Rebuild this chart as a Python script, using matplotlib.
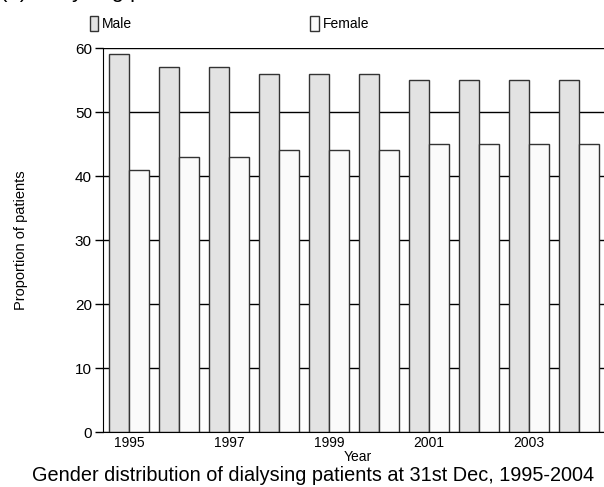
import matplotlib.pyplot as plt
import numpy as np

years = [1995, 1996, 1997, 1998, 1999, 2000, 2001, 2002, 2003, 2004]
male = [59, 57, 57, 56, 56, 56, 55, 55, 55, 55]
female = [41, 43, 43, 44, 44, 44, 45, 45, 45, 45]
tick_years = [1995, 1997, 1999, 2001, 2003]

plt.rcParams['font.family'] = ['Liberation Sans', 'DejaVu Sans']

fig = plt.figure(figsize=(6.04, 4.87), dpi=100)
ax = fig.add_axes([0.1705, 0.1129, 0.8295, 0.7885])

x = np.arange(len(years))
w = 0.4
b1 = ax.bar(x - w / 2, male, w, color='#e3e3e3', edgecolor='#333333', linewidth=1, label='Male')
b2 = ax.bar(x + w / 2, female, w, color='#fbfbfb', edgecolor='#333333', linewidth=1, label='Female')

ax.set_xlim(-0.52, 9.5)
ax.set_ylim(0, 60)
ax.set_yticks(range(0, 61, 10))
ax.set_xticks([years.index(y) for y in tick_years])
ax.set_xticklabels([str(y) for y in tick_years], fontsize=10)
ax.tick_params(axis='x', length=0, pad=3)
ax.tick_params(axis='y', length=6, width=1, labelsize=11, pad=2)
ax.yaxis.grid(True, color='black', linewidth=1)
ax.set_axisbelow(True)
for s in ['top', 'right']:
    ax.spines[s].set_visible(False)

ax.set_ylabel('Proportion of patients', fontsize=10.5, labelpad=34)
fig.text(358 / 604, (487 - 461) / 487, 'Year', fontsize=10, ha='center', va='baseline')
fig.text(313 / 604, (487 - 481) / 487,
         'Gender distribution of dialysing patients at 31st Dec, 1995-2004',
         fontsize=14.3, ha='center', va='baseline')
fig.text(0.0, 1.0 + 3 / 487, '(b) Dialysing patients', fontsize=16, ha='left', va='baseline')

leg = fig.legend(handles=[b1, b2], loc='upper left', bbox_to_anchor=(0.128, 0.993), ncol=2,
                 frameon=False, fontsize=10, handlelength=0.6, handleheight=1.3,
                 handletextpad=0.3, columnspacing=12.8)

fig.savefig('out.png', dpi=100)
